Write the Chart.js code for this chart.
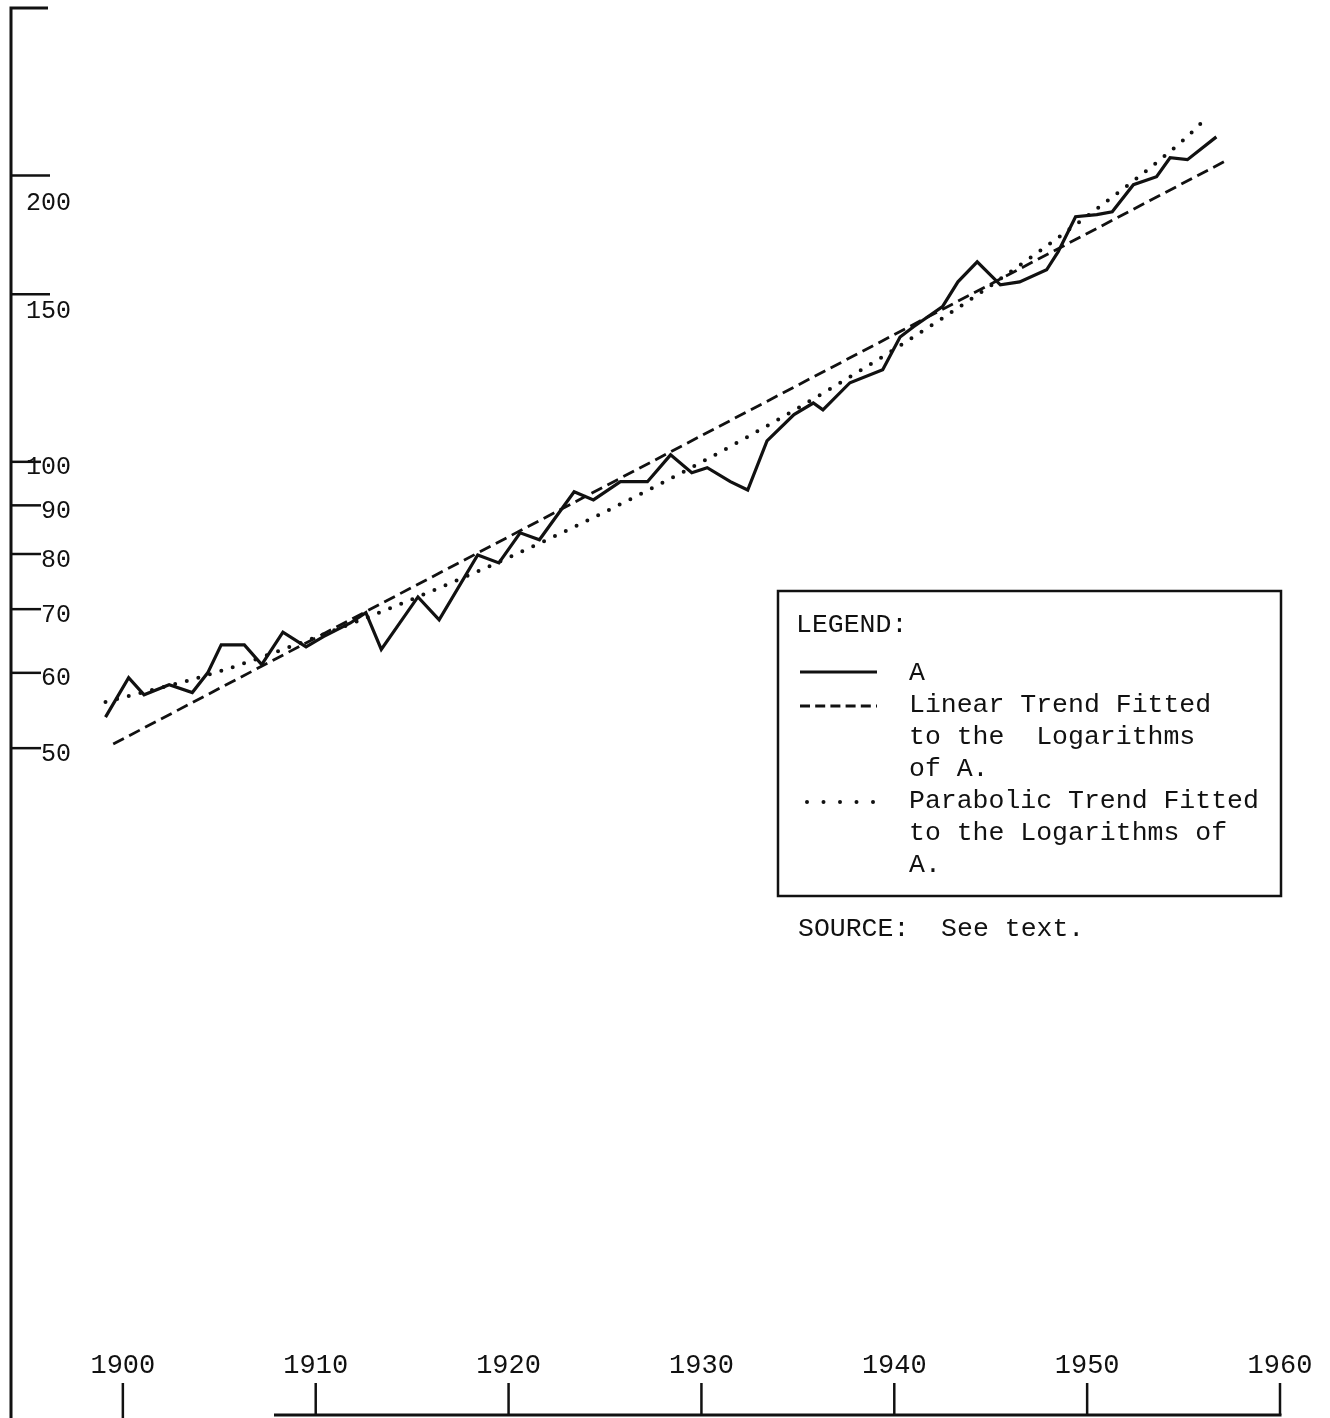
<!DOCTYPE html>
<html>
<head>
<meta charset="utf-8">
<title>A with linear and parabolic trends</title>
<script src="https://cdn.jsdelivr.net/npm/chart.js@4.4.1/dist/chart.umd.min.js"></script>
<style>
    html, body { margin: 0; padding: 0; background: #fff; }
    #wrap { width: 1330px; height: 1418px; }
</style>
</head>
<body>
<div id="wrap"><canvas id="trendChart" width="1330" height="1418"></canvas></div>
<script>
// Series A (years as plotted, log scale values)
const yearsA = [1899.1, 1900.3, 1901.1, 1902.4, 1903.6, 1904.4, 1905.1, 1906.3, 1907.2, 1908.3,
    1909.5, 1910.4, 1911.8, 1912.6, 1913.4, 1915.3, 1916.4, 1918.4, 1919.5, 1920.6,
    1921.6, 1923.4, 1924.4, 1925.8, 1927.2, 1928.4, 1929.5, 1930.3, 1931.5, 1932.4,
    1933.4, 1934.8, 1935.8, 1936.3, 1937.7, 1939.4, 1940.3, 1941.0, 1942.5, 1943.3,
    1944.3, 1945.5, 1946.5, 1947.9, 1948.5, 1949.4, 1950.5, 1951.3, 1952.4, 1953.6,
    1954.3, 1955.2, 1956.7];
const valuesA = [53.9, 59.3, 56.9, 58.3, 57.2, 60.0, 64.2, 64.2, 61.2, 66.2,
    63.9, 65.5, 67.7, 69.4, 63.5, 72.1, 68.2, 79.8, 78.3, 84.2,
    82.8, 93.0, 91.2, 95.3, 95.3, 101.7, 97.4, 98.6, 95.3, 93.4,
    105.2, 112.1, 115.3, 113.4, 121.1, 125.0, 135.3, 138.7, 145.6, 154.6,
    162.3, 153.5, 154.6, 159.2, 166.3, 181.0, 181.9, 183.2, 195.6, 199.4,
    208.8, 207.8, 219.6];

// Linear trend (straight on the log scale): end points
const yearsLinear = [1899.5, 1957.3];
const valuesLinear = [50.5, 207.8];

// Parabolic trend, read every five years
const yearsParabolic = [1899.1, 1905, 1910, 1915, 1920, 1925, 1930, 1935, 1940, 1945, 1950, 1955, 1956.1];
const valuesParabolic = [55.9, 60.2, 65.4, 71.7, 79.3, 88.6, 99.9, 113.9, 131.3, 153.2, 181.3, 218.0, 229.0];

// tick labels
const yTickValues = [50, 60, 70, 80, 90, 100, 150, 200];
const xTickValues = [1900, 1910, 1920, 1930, 1940, 1950, 1960];

// legend text, line by line as typed
const legendTitle = 'LEGEND:';
const legendLines = [
    ['A'],
    ['Linear Trend Fitted', 'to the  Logarithms', 'of A.'],
    ['Parabolic Trend Fitted', 'to the Logarithms of', 'A.']
];
const sourceNote = 'SOURCE:  See text.';

const INK = '#111';
const TYPE = '"Liberation Mono", "Courier New", monospace';

function points(xs, ys) {
    return xs.map((x, i) => ({ x: x, y: ys[i] }));
}

// axes drawn by hand, placed through the chart's own scales
const axesPlugin = {
    id: 'handAxes',
    afterDraw(chart) {
        const { ctx, chartArea } = chart;
        const xs = chart.scales.x;
        const ys = chart.scales.y;
        const ax = chartArea.left;
        ctx.save();
        ctx.strokeStyle = INK;
        ctx.fillStyle = INK;

        // vertical axis with small cap on top
        ctx.lineWidth = 3;
        ctx.beginPath();
        ctx.moveTo(ax, chartArea.top - 1.5);
        ctx.lineTo(ax, chart.height);
        ctx.moveTo(ax - 1.5, chartArea.top);
        ctx.lineTo(ax + 37, chartArea.top);
        ctx.stroke();

        // y ticks + labels (200 and 150 typed under their tick)
        ctx.lineWidth = 2.5;
        ctx.font = '25px ' + TYPE;
        ctx.textAlign = 'right';
        ctx.textBaseline = 'middle';
        yTickValues.forEach(v => {
            const py = ys.getPixelForValue(v);
            const big = v >= 150;
            ctx.beginPath();
            ctx.moveTo(ax, py);
            ctx.lineTo(big ? ax + 39 : ax + 30, py);
            ctx.stroke();
            const dy = v === 200 ? 28 : (v === 150 ? 17 : 6);
            ctx.fillText(String(v), 71, py + dy);
        });

        // bottom axis
        const base = chartArea.bottom + 2;
        ctx.lineWidth = 3;
        ctx.beginPath();
        ctx.moveTo(274, base);
        ctx.lineTo(xs.getPixelForValue(1960) + 1.5, base);
        ctx.stroke();

        ctx.lineWidth = 2.5;
        ctx.font = '27px ' + TYPE;
        ctx.textAlign = 'center';
        xTickValues.forEach(yr => {
            const px = xs.getPixelForValue(yr);
            ctx.beginPath();
            ctx.moveTo(px, base - 32);
            ctx.lineTo(px, yr === 1900 ? chart.height : base);
            ctx.stroke();
            ctx.fillText(String(yr), px, base - 49);
        });
        ctx.restore();
    }
};

// typed legend box
const legendPlugin = {
    id: 'typedLegend',
    afterDraw(chart) {
        const { ctx } = chart;
        const sets = chart.data.datasets;
        const bx = 778, by = 591, bw = 503, bh = 305;
        const lineH = 32;
        ctx.save();
        ctx.strokeStyle = INK;
        ctx.fillStyle = INK;
        ctx.lineWidth = 2.5;
        ctx.strokeRect(bx, by, bw, bh);

        ctx.font = '26.5px ' + TYPE;
        ctx.textAlign = 'left';
        ctx.textBaseline = 'middle';
        ctx.fillText(legendTitle, bx + 18, by + 34);

        let row = by + 82;
        legendLines.forEach((lines, i) => {
            const ds = sets[i];
            ctx.save();
            ctx.lineWidth = ds.borderWidth;
            ctx.lineCap = ds.borderCapStyle || 'butt';
            ctx.setLineDash(i === 1 ? [10, 5.2] : (ds.borderDash || []));
            if (i === 2) {
                ctx.setLineDash([0, 16.5]);
                ctx.lineWidth = 4;
            }
            ctx.beginPath();
            ctx.moveTo(bx + (i === 2 ? 29 : 22), row + (i === 0 ? -1 : 1));
            ctx.lineTo(bx + 99, row + (i === 0 ? -1 : 1));
            ctx.stroke();
            ctx.restore();
            lines.forEach(t => {
                ctx.fillText(t, bx + 131, row);
                row += lineH;
            });
        });

        ctx.fillText(sourceNote, bx + 20, by + bh + 33);
        ctx.restore();
    }
};

const ctx = document.getElementById('trendChart').getContext('2d');
const trendChart = new Chart(ctx, {
    type: 'line',
    data: {
        datasets: [{
            label: 'A',
            data: points(yearsA, valuesA),
            borderColor: INK,
            borderWidth: 3.2,
            pointRadius: 0,
            tension: 0
        }, {
            label: 'Linear Trend Fitted to the Logarithms of A.',
            data: points(yearsLinear, valuesLinear),
            borderColor: INK,
            borderWidth: 2.8,
            borderDash: [12, 6],
            pointRadius: 0
        }, {
            label: 'Parabolic Trend Fitted to the Logarithms of A.',
            data: points(yearsParabolic, valuesParabolic),
            borderColor: INK,
            borderWidth: 4,
            borderDash: [0, 12],
            borderCapStyle: 'round',
            cubicInterpolationMode: 'monotone',
            pointRadius: 0
        }]
    },
    options: {
        responsive: false,
        animation: false,
        devicePixelRatio: 1,
        layout: { padding: { left: 11, right: 50, top: 8, bottom: 5 } },
        scales: {
            x: { type: 'linear', min: 1894.2, max: 1960, bounds: 'data', display: false },
            y: { type: 'logarithmic', min: 10, max: 300, bounds: 'data', display: false }
        },
        plugins: {
            legend: { display: false },
            tooltip: { enabled: false }
        }
    },
    plugins: [axesPlugin, legendPlugin]
});
</script>
</body>
</html>
